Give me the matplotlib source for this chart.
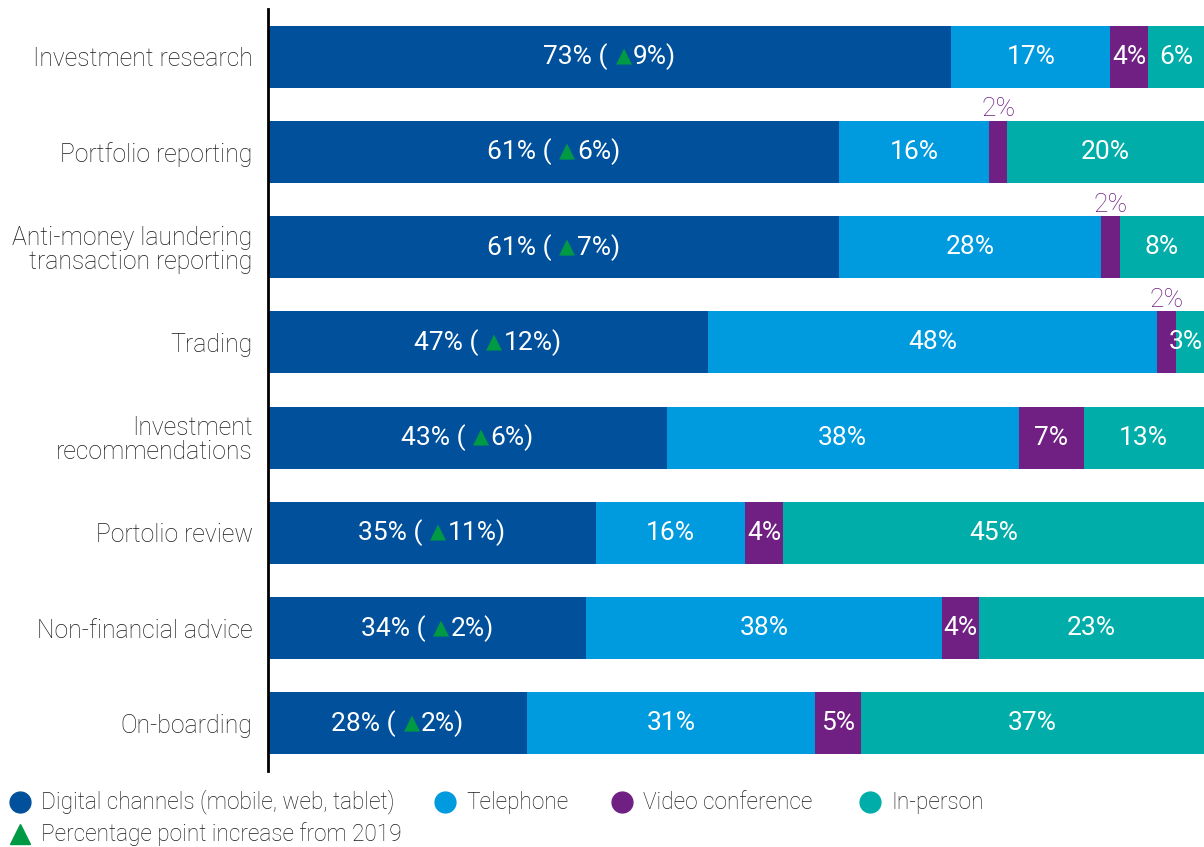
import numpy as np
import matplotlib
matplotlib.use('Agg')
import matplotlib.pyplot as plt
from matplotlib.offsetbox import TextArea, HPacker, AnnotationBbox
from matplotlib.lines import Line2D

plt.rcParams['font.family'] = ['Roboto', 'DejaVu Sans']
plt.rcParams['font.weight'] = 'light'

# data (top to bottom)
categories = ['Investment research', 'Portfolio reporting',
              'Anti-money laundering\ntransaction reporting', 'Trading',
              'Investment\nrecommendations', 'Portolio review',
              'Non-financial advice', 'On-boarding']
digital = [73, 61, 61, 47, 43, 35, 34, 28]
increase = [9, 6, 7, 12, 6, 11, 2, 2]
telephone = [17, 16, 28, 48, 38, 16, 38, 31]
video = [4, 2, 2, 2, 7, 4, 4, 5]
in_person = [6, 20, 8, 3, 13, 45, 23, 37]

series_names = ['Digital channels (mobile, web, tablet)', 'Telephone',
                'Video conference', 'In-person']
increase_name = 'Percentage point increase from 2019'
colors = ['#00509B', '#009ADE', '#702082', '#00ADA8']
green = '#009A44'

vals = np.array([digital, telephone, video, in_person], dtype=float)
# rounded values: rows over 100 are scaled down, the last segment fills to 100
scale = 100 / np.maximum(vals.sum(axis=0), 100)
widths = vals * scale
widths[3] = 100 - widths[:3].sum(axis=0)

W, H = 1204, 847
fig = plt.figure(figsize=(W / 100, H / 100), dpi=100)
ax = fig.add_axes([0.2226, 0.0897, 0.7774, 0.8997])

fs = 19
tri = dict(color=green, fontsize=15, family=['DejaVu Sans'], fontweight='normal')
y = np.arange(len(categories))
left = np.zeros(len(categories))
for k in range(4):
    ax.barh(y, widths[k], left=left, height=0.65, color=colors[k])
    for i in range(len(categories)):
        cx = left[i] + widths[k][i] / 2
        v = int(vals[k][i])
        if k == 0:
            wt = dict(color='white', fontsize=fs, fontweight='normal')
            parts = [TextArea(f'{v}% ( ', textprops=wt),
                     TextArea('\u25B2', textprops=tri),
                     TextArea(f'{increase[i]}%)', textprops=wt)]
            box = HPacker(children=parts, pad=0, sep=1, align='center')
            ab = AnnotationBbox(box, (cx, y[i]), xycoords='data', frameon=False,
                                box_alignment=(0.5, 0.5), pad=0)
            ax.add_artist(ab)
        elif v <= 2:
            ax.text(cx, y[i] - 0.32, f'{v}%', color=colors[2], fontsize=fs,
                    ha='center', va='bottom')
        elif left[i] + widths[k][i] >= 99.9 and widths[k][i] < 4:
            # narrow last segment: keep the label inside the right edge
            ax.text(99.9, y[i], f'{v}%', color='white', fontsize=fs,
                    fontweight='normal', ha='right', va='center')
        else:
            ax.text(cx, y[i], f'{v}%', color='white', fontsize=fs,
                    fontweight='normal', ha='center', va='center')
    left += widths[k]

ax.set_xlim(0, 100)
ax.set_ylim(7.5, -0.5)
ax.set_yticks(y)
ax.set_yticklabels(categories, fontsize=17.8, color='#1a1a1a', linespacing=1.0)
ax.tick_params(axis='y', length=0, pad=11)
ax.set_xticks([])
for s in ['top', 'right', 'bottom']:
    ax.spines[s].set_visible(False)
ax.spines['left'].set_linewidth(2)
ax.spines['left'].set_color('black')

# legend drawn by hand: (marker, colour, label, x px, y px from top)
legend_items = [('o', colors[0], series_names[0], 20, 802),
                ('o', colors[1], series_names[1], 445, 802),
                ('o', colors[2], series_names[2], 622, 802),
                ('o', colors[3], series_names[3], 870, 802),
                ('^', green, increase_name, 20, 834)]
for mk, c, lab, px, py in legend_items:
    fx, fy = px / W, 1 - py / H
    fig.add_artist(Line2D([fx], [fy], transform=fig.transFigure, marker=mk,
                          color=c, markersize=15 if mk == 'o' else 14, ls=''))
    fig.text(fx + 21 / W, fy, lab, fontsize=16.3, color='#1a1a1a',
             ha='left', va='center')

fig.savefig('out.png', dpi=100)
